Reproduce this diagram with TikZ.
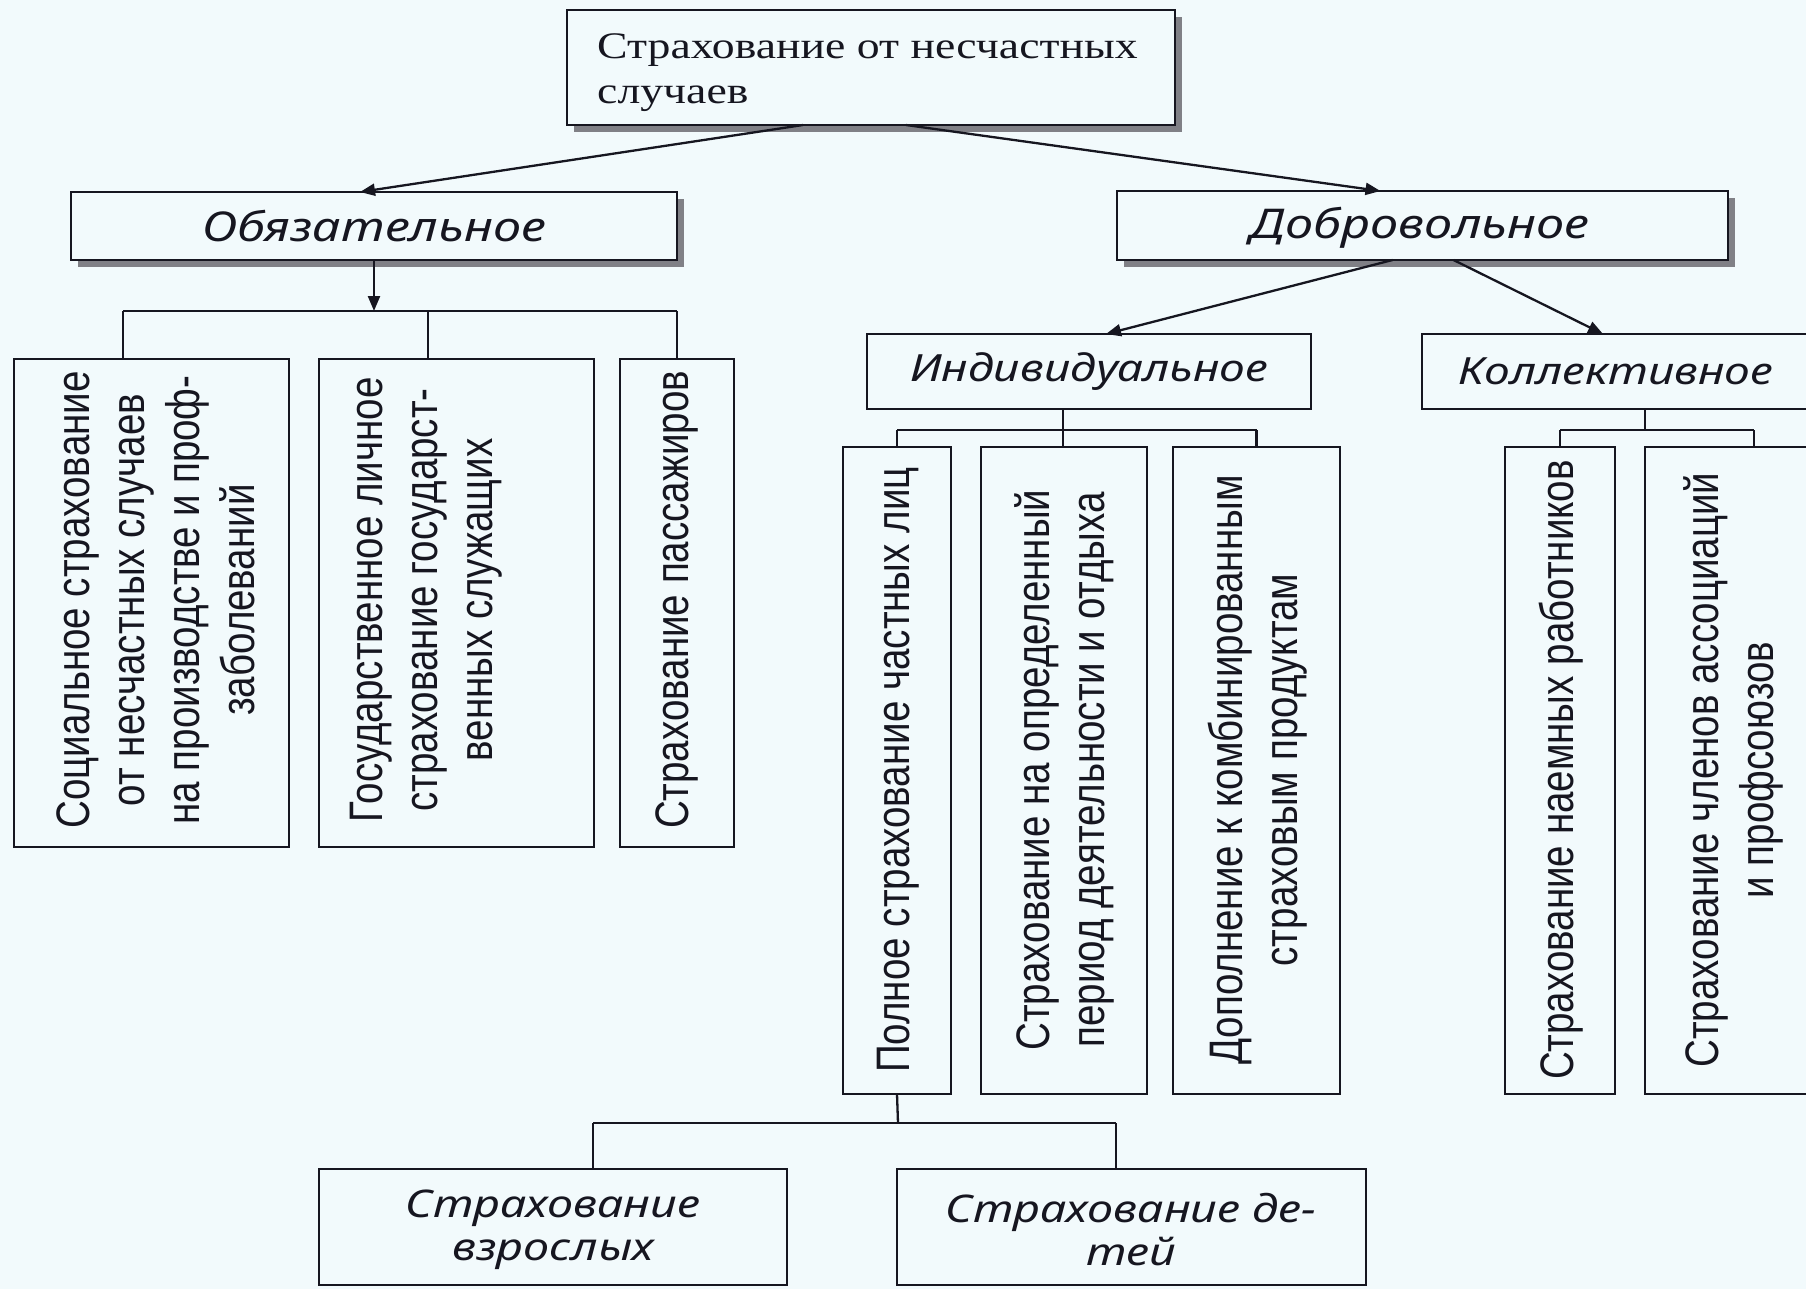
\documentclass[tikz,border=0pt]{standalone}
\usepackage{fontspec}
\usetikzlibrary{arrows.meta,calc,shadows}
\setmainfont{Liberation Serif}
\newfontfamily\topfont[FakeStretch=1.22]{Liberation Serif}
\newfontfamily\itfont[FakeStretch=1.23]{Noto Sans}
\newfontfamily\vfont[FakeStretch=0.82]{Liberation Sans}
\definecolor{bg}{RGB}{242,250,252}
\definecolor{ink}{RGB}{22,22,32}
\definecolor{shadowgray}{RGB}{128,128,134}
\begin{document}
\begin{tikzpicture}[x=1pt,y=-1pt,
  box/.style={draw=ink, line width=2.6pt, fill=bg, inner sep=0pt, outer sep=0pt, anchor=north west, text=ink},
  shbox/.style={box, drop shadow={shadow xshift=7pt, shadow yshift=-7pt, fill=shadowgray, opacity=1}},
  conn/.style={draw=ink, line width=2.3pt},
  arr/.style={conn, -{Triangle[length=15pt,width=12pt]}},
  itA/.style={font=\itfont\itshape\fontsize{41}{48}\selectfont},
  itB/.style={font=\itfont\itshape\fontsize{37.5}{43}\selectfont},
  itC/.style={font=\itfont\itshape\fontsize{38}{43}\selectfont, align=center},
  vtext/.style={rotate=90, align=center, inner sep=0pt, text=ink, font=\vfont\fontsize{47}{55}\selectfont}
]
\useasboundingbox (0,0) rectangle (1806,1289);
\clip (0,0) rectangle (1806,1289);
\fill[bg] (0,0) rectangle (1806,1289);

% top
\node[shbox, minimum width=608, minimum height=115] (top) at (567,10) {};
\node[anchor=north west, align=left, inner sep=0pt, text=ink, font=\topfont\fontsize{37.5}{45}\selectfont] (toptxt) at (597,33) {Страхование от несчастных\\случаев};

% level 1
\node[shbox, itA, minimum width=606, minimum height=68] (obz) at (71,192) {Обязательное};
\node[shbox, itA, minimum width=611, minimum height=69] (dob) at (1117,191) {};
\node[anchor=center, inner sep=0pt, itA, text=ink] (dobtxt) at (1420,228) {Добровольное};

% level 2
\node[box, itB, minimum width=444, minimum height=75] (ind) at (867,334) {Индивидуальное};
\node[box, itB, minimum width=390, minimum height=75] (kol) at (1422,334) {};
\node[anchor=center, inner sep=0pt, itB, text=ink] (koltxt) at (1616,371.5) {Коллективное};

% obligatory children
\node[box, minimum width=275, minimum height=488] (A) at (14,359) {};
\node[box, minimum width=275, minimum height=488] (B) at (319,359) {};
\node[box, minimum width=114, minimum height=488] (C) at (620,359) {};
\node[vtext] (tA) at (156,600) {Социальное страхование\\от несчастных случаев\\на производстве и проф-\\заболеваний};
\node[vtext] (tB) at (426,600) {Государственное личное\\страхование государст-\\венных служащих};
\node[vtext] (tC) at (677,600) {Страхование пассажиров};

% individual children
\node[box, minimum width=108, minimum height=647] (D) at (843,447) {};
\node[box, minimum width=166, minimum height=647] (E) at (981,447) {};
\node[box, minimum width=167, minimum height=647] (F) at (1173,447) {};
\node[vtext] (tD) at (898,770) {Полное страхование частных лиц};
\node[vtext] (tE) at (1064,770) {Страхование на определенный\\период деятельности и отдыха};
\node[vtext] (tF) at (1258,770) {Дополнение к комбинированным\\страховым продуктам};

% collective children
\node[box, minimum width=110, minimum height=647] (I) at (1505,447) {};
\node[box, minimum width=177, minimum height=647] (J) at (1645,447) {};
\node[vtext] (tI) at (1561,770) {Страхование наемных работников};
\node[vtext] (tJ) at (1733,770) {Страхование членов ассоциаций\\и профсоюзов};

% bottom
\node[box, minimum width=468, minimum height=116] (G) at (319,1169) {};
\node[box, minimum width=469, minimum height=116] (H) at (897,1169) {};
\node[anchor=center, inner sep=0pt, itC, text=ink] (Gtxt) at (553,1230) {Страхование\\взрослых};
\node[anchor=center, inner sep=0pt, itC, text=ink] (Htxt) at (1131,1230) {Страхование де-\\тей};

% arrows from top
\draw[arr] ($(top.south)+(-68,0)$) -- ($(obz.north)+(-14,0)$);
\draw[arr] ($(top.south)+(35,0)$) -- ($(dob.north)+(-42,0)$);
\draw[arr] ($(dob.south)+(-30,0)$) -- ($(ind.north)+(17,0)$);
\draw[arr] ($(dob.south)+(31,0)$) -- ($(kol.north)+(-14,0)$);

% obligatory bus
\coordinate (obBar) at (374,311);
\coordinate (obL) at (123,311);
\coordinate (obM) at (428,311);
\coordinate (obR) at (677,311);
\draw[arr] (obz.south) -- (obBar);
\draw[conn] (obL) -- (obR);
\draw[conn] (obL) -- (obL |- A.north);
\draw[conn] (obM) -- (obM |- B.north);
\draw[conn] (obR) -- (obR |- C.north);

% individual bus
\coordinate (inS) at (1063,430);
\draw[conn] (inS |- ind.south) -- (inS);
\draw[conn] (D.north |- inS) -- (F.north |- inS);
\draw[conn] (D.north |- inS) -- (D.north);
\draw[conn] (inS) -- (inS |- E.north);
\draw[conn] (F.north |- inS) -- (F.north);

% collective bus
\coordinate (kS) at (1645,430);
\coordinate (kR) at (1754,430);
\draw[conn] (kS |- kol.south) -- (kS);
\draw[conn] (I.north |- kS) -- (kR);
\draw[conn] (I.north |- kS) -- (I.north);
\draw[conn] (kR) -- (kR |- J.north);

% bottom bus
\coordinate (bS) at (898,1123);
\coordinate (bL) at (593,1123);
\coordinate (bR) at (1116,1123);
\draw[conn] (D.south) -- (bS);
\draw[conn] (bL) -- (bR);
\draw[conn] (bL) -- (bL |- G.north);
\draw[conn] (bR) -- (bR |- H.north);
\end{tikzpicture}
\end{document}
